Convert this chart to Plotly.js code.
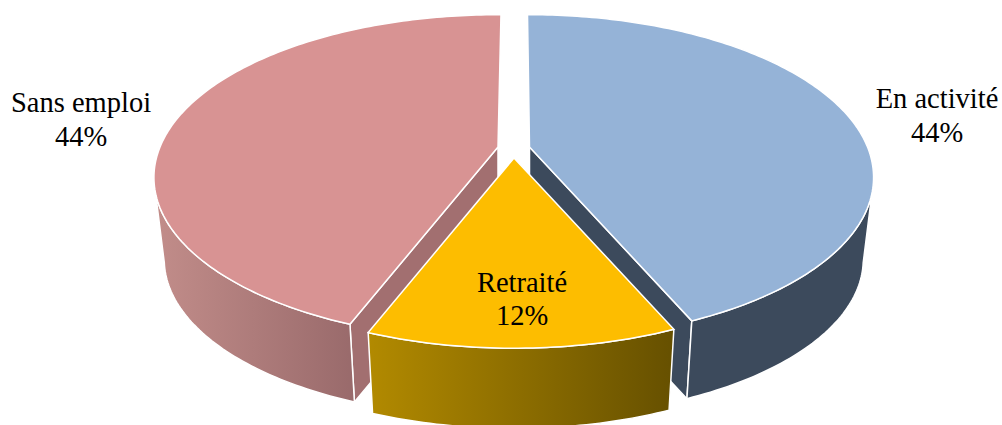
<!DOCTYPE html>
<html>
<head>
<meta charset="utf-8">
<script src="https://cdn.plot.ly/plotly-3.0.1.min.js"></script>
<style>html,body{margin:0;padding:0;background:#fff;overflow:hidden}</style>
</head>
<body>
<div id="chart" style="width:1002px;height:425px"></div>
<script>
// Data
const categories = ["En activité", "Retraité", "Sans emploi"];
const values = [43.6, 12.4, 44.0];
const percentLabels = ["44%", "12%", "44%"];

// Projection of the tilted disc (screen pixels, via the axes)
const R = 338, RK = 157, P = 0.187, ROT = -0.4;
const DEPTH_SCALE = 0.97;
const depthDy = [83, 86, 83];
const apexX = [529.5, 514, 498], apexY = [147, 158, 147];
const radiusScale = [1, 0.985, 1], endTrim = [0, 0, 1.0];
const topColor = ["#95b3d7", "#fdbd00", "#d89393"];
const innerColor = ["#3c4a5c", null, "#a26f70"];
const sideStart = [102, null, null], sideEnd = [null, null, 258];
const sideGrad = [null, ["#b28a00", "#665000"], ["#c28d8a", "#996a6b"]];
const sideFlat = ["#3c4a5c", null, null];
const labelX = [937, 522, 81], nameY = [101, 285, 105], pctY = [135, 318, 139];
const FONT = "Liberation Serif, Times New Roman, serif";

function pt(deg, i, bottom) {
  const a = deg * Math.PI / 180, u = Math.sin(a), v = -Math.cos(a);
  const s = 1 / (1 - P * v), sc = (bottom ? DEPTH_SCALE : 1) * radiusScale[i];
  return [apexX[i] + sc * R * u * s, apexY[i] + (bottom ? depthDy[i] : 0) + sc * RK * v * s];
}
function arc(a0, a1, i, bottom) {
  const out = [], n = Math.max(2, Math.ceil(Math.abs(a1 - a0)));
  for (let k = 0; k <= n; k++) out.push(pt(a0 + (a1 - a0) * k / n, i, bottom));
  return out;
}
function poly(points, extra) {
  const closed = points.concat([points[0]]);
  return Object.assign({
    type: "scatter", mode: "lines", x: closed.map(p => p[0]), y: closed.map(p => p[1]),
    fill: "toself", hoverinfo: "skip", showlegend: false,
    line: {color: "#ffffff", width: 1.5, simplify: false}
  }, extra);
}

// slice angles from the values
const starts = [], ends = [];
let cum = 0;
values.forEach((val, i) => {
  starts[i] = ROT + cum / 100 * 360;
  cum += val;
  ends[i] = ROT + cum / 100 * 360 + endTrim[i];
});

const traces = [];
[0, 2, 1].forEach(i => {
  // inner cut face visible for slices adjoining the front wedge
  if (innerColor[i]) {
    const edge = i === 0 ? ends[i] : starts[i];
    const apexTop = [apexX[i], apexY[i]], apexBot = [apexX[i], apexY[i] + depthDy[i]];
    traces.push(poly([apexTop, pt(edge, i, false), pt(edge, i, true), apexBot], {fillcolor: innerColor[i]}));
  }
  // outer wall
  const a0 = sideStart[i] !== null ? sideStart[i] : starts[i];
  const a1 = sideEnd[i] !== null ? sideEnd[i] : ends[i];
  const wall = arc(a0, a1, i, false).concat(arc(a1, a0, i, true));
  const style = sideGrad[i]
    ? {fillgradient: {type: "horizontal", colorscale: [[0, sideGrad[i][0]], [1, sideGrad[i][1]]]}}
    : {fillcolor: sideFlat[i]};
  traces.push(poly(wall, style));
});
// top faces
[0, 2, 1].forEach(i => {
  traces.push(poly([[apexX[i], apexY[i]]].concat(arc(starts[i], ends[i], i, false)), {fillcolor: topColor[i]}));
});
// labels
traces.push({
  type: "scatter", mode: "text", x: labelX.concat(labelX), y: nameY.concat(pctY),
  text: categories.concat(percentLabels), textposition: "middle center",
  textfont: {family: FONT, size: 28.5, color: "#000000"}, hoverinfo: "skip", showlegend: false
});

const layout = {
  width: 1002, height: 425, margin: {l: 0, r: 0, t: 0, b: 0},
  paper_bgcolor: "#ffffff", plot_bgcolor: "#ffffff", showlegend: false,
  xaxis: {range: [0, 1002], visible: false, fixedrange: true},
  yaxis: {range: [425, 0], visible: false, fixedrange: true}
};
Plotly.newPlot("chart", traces, layout, {displayModeBar: false, staticPlot: true});
</script>
</body>
</html>
